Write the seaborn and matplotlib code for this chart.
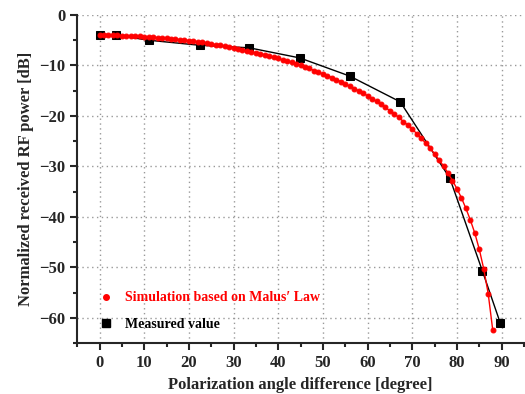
import numpy as np
import pandas as pd
import matplotlib
matplotlib.use("Agg")
import matplotlib.pyplot as plt
from matplotlib.lines import Line2D
from matplotlib.ticker import MultipleLocator
import seaborn as sns

# simulated curve (Malus' law), 1 degree steps
sim_angle = list(range(0, 89))
sim_power = [-4.0, -4.0, -4.0, -4.0, -4.0, -4.1, -4.1, -4.1, -4.2, -4.2,
             -4.3, -4.3, -4.4, -4.5, -4.5, -4.6, -4.7, -4.8, -4.9, -5.0,
             -5.1, -5.2, -5.3, -5.4, -5.6, -5.7, -5.9, -6.0, -6.2, -6.3,
             -6.5, -6.7, -6.9, -7.1, -7.3, -7.5, -7.7, -7.9, -8.1, -8.4,
             -8.6, -8.9, -9.2, -9.4, -9.7, -10.0, -10.3, -10.6, -11.0, -11.3,
             -11.7, -12.0, -12.4, -12.8, -13.2, -13.7, -14.1, -14.6, -15.0, -15.5,
             -16.0, -16.6, -17.1, -17.7, -18.3, -19.0, -19.6, -20.3, -21.1, -21.8,
             -22.6, -23.5, -24.4, -25.4, -26.4, -27.5, -28.7, -29.9, -31.3, -32.8,
             -34.4, -36.2, -38.3, -40.6, -43.2, -46.4, -50.3, -55.2, -62.3]

# measured points
meas_angle = [0, 3.8, 11, 22.4, 33.5, 44.8, 56, 67.3, 78.4, 85.7, 89.7]
meas_power = [-4.0, -4.0, -5.0, -6.0, -6.5, -8.5, -12.1, -17.2, -32.3, -50.7, -61.0]

sns.set_style("ticks")
plt.rcParams['font.family'] = ['Liberation Serif', 'DejaVu Serif']
plt.rcParams['font.weight'] = 'bold'
plt.rcParams['axes.labelweight'] = 'bold'

fig = plt.figure(figsize=(5.25, 3.94), dpi=100)
ax = fig.add_axes([0.147, 0.129, 0.851, 0.833])
ax.set_facecolor('white')

sim = pd.DataFrame({'angle': sim_angle, 'power': sim_power})
meas = pd.DataFrame({'angle': meas_angle, 'power': meas_power})

sns.lineplot(data=meas, x='angle', y='power', color='black', linewidth=1,
             marker='s', markersize=6, markeredgecolor='black', ax=ax, zorder=2)
sns.lineplot(data=sim, x='angle', y='power', color='red', linewidth=1,
             marker='o', markersize=3.5, markeredgecolor='red', ax=ax, zorder=3)

ax.xaxis.set_major_locator(MultipleLocator(10))
ax.xaxis.set_minor_locator(MultipleLocator(5))
ax.yaxis.set_major_locator(MultipleLocator(10))
ax.yaxis.set_minor_locator(MultipleLocator(5))
ax.set_xticks(range(0, 100, 10))
ax.set_xlim(-5, 95)
ax.set_ylim(-65, 0)

ax.grid(True, which='major', linestyle=(0, (1, 2.5)), color='#999999', linewidth=1)
ax.tick_params(which='major', length=5, width=1.5, labelsize=12, direction='out')
ax.tick_params(which='minor', length=3, width=1.5, direction='out')
for lab in ax.get_xticklabels() + ax.get_yticklabels():
    lab.set_fontweight('bold')

sns.despine(ax=ax, top=True, right=True)
ax.spines['left'].set_linewidth(1.5)
ax.spines['bottom'].set_linewidth(1.5)

ax.set_xlabel("Polarization angle difference [degree]", fontsize=12, fontweight='bold')
ax.set_ylabel("Normalized received RF power [dB]", fontsize=12, fontweight='bold')

handles = [Line2D([], [], color='red', marker='o', linestyle='none', markersize=4),
           Line2D([], [], color='black', marker='s', linestyle='none', markersize=6)]
ax.legend(handles, ["Simulation based on Malus\u2032 Law", "Measured value"],
          loc='lower left', bbox_to_anchor=(0.02, 0.0), frameon=False,
          labelcolor=['red', 'black'], prop={'weight': 'bold', 'size': 10},
          handlelength=1.0, handletextpad=0.9, labelspacing=0.95)

fig.savefig("out.png", dpi=100)
